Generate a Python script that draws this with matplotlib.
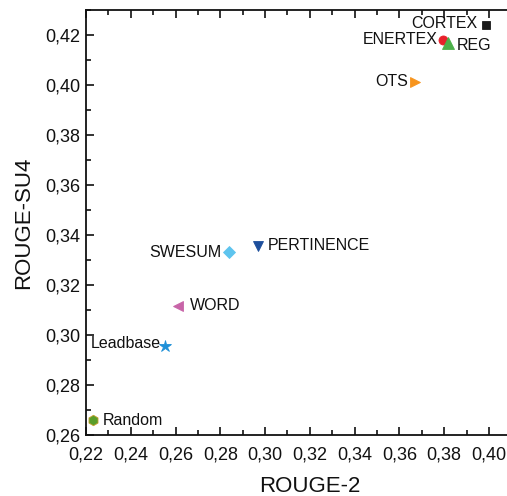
import matplotlib.pyplot as plt
from matplotlib.ticker import MultipleLocator, FuncFormatter

plt.rcParams['font.family'] = ['Liberation Sans', 'DejaVu Sans']

systems = ['CORTEX', 'ENERTEX', 'REG', 'OTS', 'SWESUM', 'PERTINENCE',
           'WORD', 'Leadbase', 'Random']
rouge2 = [0.3985, 0.3794, 0.3816, 0.3668, 0.2838, 0.2970, 0.2610, 0.2555, 0.2231]
rouge_su4 = [0.4240, 0.4180, 0.4168, 0.4012, 0.3330, 0.3355, 0.3114, 0.2955, 0.2658]

markers = ['s', 'o', '^', '>', 'D', 'v', '<', '*', 'h']
colors = ['#1a1a1a', '#e8202a', '#4cb04a', '#f7941d', '#5ec4ee', '#1d4f9c',
          '#c864a8', '#1e90d8', '#5a9e2a']
sizes = [6, 6.5, 8, 7, 6, 7.5, 7.5, 9, 7.5]
# label offsets in points and alignment
offsets = [(-6, 1), (-3.5, 0), (6.5, -2), (-5, 0), (-5, 0), (7, 0.5), (8.5, 0.5), (-3.5, 2), (7, 0)]
aligns = ['right', 'right', 'left', 'right', 'right', 'left', 'left', 'right', 'left']

fig = plt.figure(figsize=(5.07, 4.96), dpi=100)
ax = fig.add_axes([0.1696, 0.123, 0.883, 0.857])

for i in range(len(systems)):
    ax.plot(rouge2[i], rouge_su4[i], marker=markers[i], color=colors[i],
            markersize=sizes[i], linestyle='none',
            markeredgecolor=('#c8a030' if systems[i] == 'Random' else colors[i]),
            markeredgewidth=0.6, clip_on=False)
    ax.annotate(systems[i], (rouge2[i], rouge_su4[i]), xytext=offsets[i],
                textcoords='offset points', ha=aligns[i], va='center',
                fontsize=11.5, color='#111111')

ax.set_xlim(0.22, 0.42)
ax.set_ylim(0.26, 0.43)
ax.xaxis.set_major_locator(MultipleLocator(0.02))
ax.xaxis.set_minor_locator(MultipleLocator(0.01))
ax.yaxis.set_major_locator(MultipleLocator(0.02))
ax.yaxis.set_minor_locator(MultipleLocator(0.01))
fmt = FuncFormatter(lambda v, p: f'{v:.2f}'.replace('.', ','))
ax.xaxis.set_major_formatter(fmt)
ax.yaxis.set_major_formatter(fmt)

ax.tick_params(which='both', direction='in', top=True, right=False,
               width=1.2, labelsize=13, colors='#111111')
ax.tick_params(which='major', length=6)
ax.tick_params(which='minor', length=3.5)
ax.tick_params(axis='x', pad=8)
ax.tick_params(axis='y', pad=4)
for s in ['left', 'bottom', 'top']:
    ax.spines[s].set_linewidth(1.3)
    ax.spines[s].set_color('#111111')
ax.spines['right'].set_visible(False)

ax.set_xlabel('ROUGE-2', fontsize=16, color='#111111', labelpad=9)
ax.set_ylabel('ROUGE-SU4', fontsize=16, color='#111111', labelpad=8)

fig.savefig('out.png', dpi=100)
